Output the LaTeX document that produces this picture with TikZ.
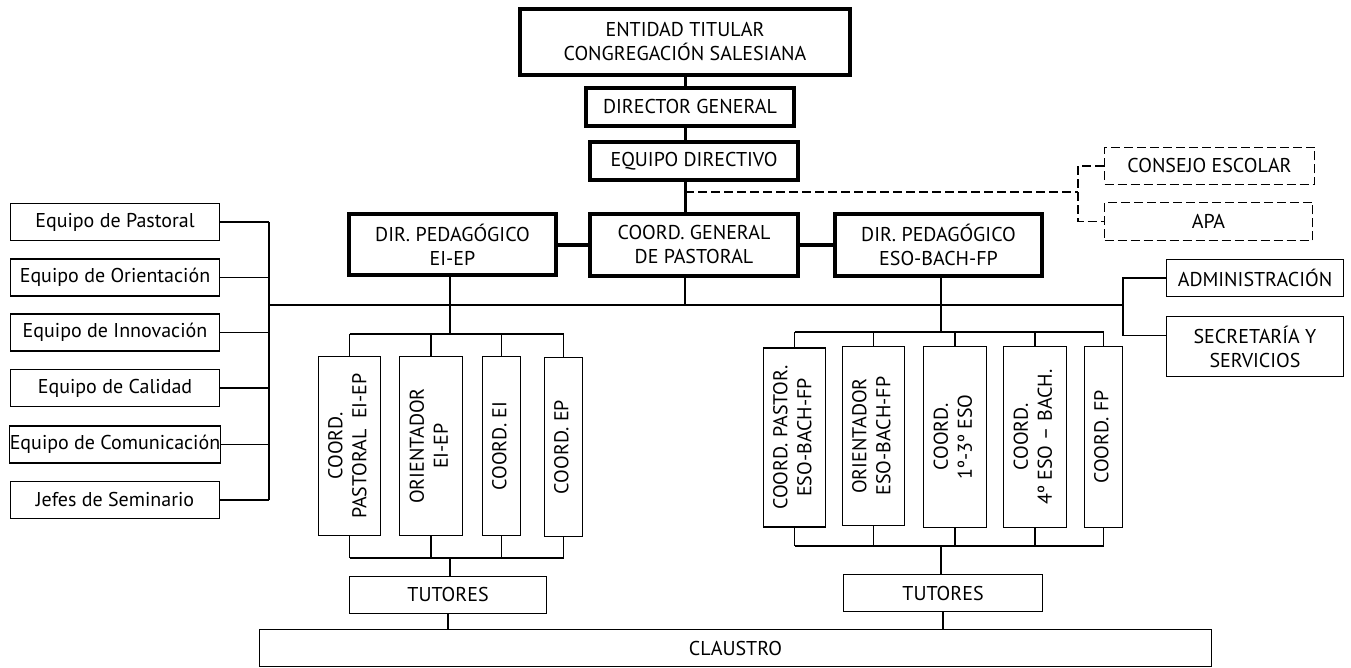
\documentclass[tikz,border=0pt]{standalone}
\usepackage{fontspec}
\setmainfont{PT Sans}
\usepackage{tikz}
\usetikzlibrary{calc, positioning}
\newcommand{\vtexto}[1]{\rotatebox{90}{\begin{tabular}{@{}c@{}}#1\end{tabular}}}

\begin{document}
\begin{tikzpicture}[x=0.5pt, y=-0.5pt, font=\fontsize{10}{12}\selectfont]
        \tikzstyle{cajag} = [draw, rectangle, line width=2pt, inner sep=0pt, align=center]
        \tikzstyle{caja} = [draw, rectangle, line width=0.65pt, inner sep=0pt, align=center]
        \tikzstyle{cajad} = [draw, rectangle, line width=0.65pt, dash pattern=on 4.5pt off 2pt, inner sep=0pt, align=center]
        \tikzstyle{linea} = [line width=0.65pt]
        \tikzstyle{lineag} = [line width=1.5pt]
        \tikzstyle{discont} = [line width=0.65pt, dash pattern=on 4.5pt off 2pt]

        \useasboundingbox (0,0) rectangle (1351,668);

        % Órganos de gobierno
        \node at (685,42) [cajag, minimum width=165pt, minimum height=33pt] (entidad) {ENTIDAD TITULAR\\CONGREGACIÓN SALESIANA};
        \node at (690,107) [cajag, minimum width=104pt, minimum height=19pt] (director) {DIRECTOR GENERAL};
        \node at (694,161) [cajag, minimum width=104pt, minimum height=19pt] (equipo) {EQUIPO DIRECTIVO};
        \node at (694,245) [cajag, minimum width=104pt, minimum height=31pt] (coordgen) {COORD. GENERAL\\DE PASTORAL};
        \node at (452.5,245) [cajag, minimum width=103.5pt, minimum height=30.5pt] (dirEI) {DIR. PEDAGÓGICO\\EI-EP};
        \node at (938.5,245) [cajag, minimum width=103.5pt, minimum height=31pt] (dirESO) {DIR. PEDAGÓGICO\\ESO-BACH-FP};

        % Consejo escolar y APA
        \node at (1209.5,166) [cajad, minimum width=105pt, minimum height=18.5pt] (consejo) {CONSEJO ESCOLAR};
        \node at (1208.5,221.5) [cajad, minimum width=104pt, minimum height=19pt] (apa) {APA};
        \node at (685,192) [coordinate] (rama) {};
        \node at (1078,192) [coordinate] (ramaD) {};

        \draw[lineag] (entidad.south) -- (entidad.south |- director.north);
        \draw[lineag] (entidad.south |- director.south) -- (entidad.south |- equipo.north);
        \draw[lineag] (entidad.south |- equipo.south) -- (entidad.south |- coordgen.north);
        \draw[line width=2pt] (dirEI.east) -- (coordgen.west);
        \draw[line width=2pt] (coordgen.east) -- (dirESO.west);
        \draw[discont] (rama) -- (ramaD);
        \draw[discont] (consejo.west) -| (ramaD) |- (apa.west);

        % Línea general
        \node at (269,305) [coordinate] (busL) {};
        \node at (1123,305) [coordinate] (busR) {};
        \draw[linea] (busL) -- (busR);
        \draw[linea] (rama |- coordgen.south) -- (rama |- busL);

        % Equipos (izquierda)
        \foreach \nom/\y/\txt in {pastoral/222/Equipo de Pastoral, orient/277.5/Equipo de Orientación,
                innov/332.5/Equipo de Innovación, calidad/388/Equipo de Calidad,
                comunic/444.5/Equipo de Comunicación, jefes/500/Jefes de Seminario}{
            \node at (115,\y) [caja, minimum width=104.5pt, minimum height=18.5pt] (\nom) {\txt};
            \draw[linea] (\nom.east) -- (\nom.east -| busL);
        }
        \draw[linea] (pastoral.east -| busL) -- (jefes.east -| busL);

        % Administración (derecha)
        \node at (1255,278) [caja, minimum width=88.5pt, minimum height=18.5pt] (admin) {ADMINISTRACIÓN};
        \node at (1255,346.5) [caja, minimum width=88.5pt, minimum height=30pt] (secre) {SECRETARÍA Y\\SERVICIOS};
        \draw[linea] (admin.west) -| (busR);
        \draw[linea] (busR) |- ($(secre.west)+(0,-11)$);

        % Coordinadores EI-EP
        \node at (450,334) [coordinate] (sbEI) {};
        \node at (450,558) [coordinate] (ibEI) {};
        \node at (349.5,446) [caja, minimum width=31pt, minimum height=89.5pt] (cpEI) {\vtexto{COORD.\\PASTORAL\ \ EI-EP}};
        \node at (431,446) [caja, minimum width=31.5pt, minimum height=89.5pt] (orEI) {\vtexto{ORIENTADOR\\EI-EP}};
        \node at (501.5,446) [caja, minimum width=19pt, minimum height=89.5pt] (coEI) {\vtexto{COORD. EI}};
        \node at (563.5,447) [caja, minimum width=19pt, minimum height=89.5pt] (coEP) {\vtexto{COORD. EP}};
        \node at (448,595) [caja, minimum width=98.5pt, minimum height=18.5pt] (tutEI) {TUTORES};

        \draw[linea] (sbEI |- dirEI.south) -- (sbEI);
        \draw[linea] (cpEI.north |- sbEI) -- (coEP.north |- sbEI);
        \draw[linea] (cpEI.south |- ibEI) -- (coEP.south |- ibEI);
        \foreach \b in {cpEI, orEI, coEI, coEP}{
            \draw[linea] (\b.north) -- (\b.north |- sbEI);
            \draw[linea] (\b.south) -- (\b.south |- ibEI);
        }
        \draw[linea] (ibEI) -- (ibEI |- tutEI.north);

        % Coordinadores ESO-BACH-FP
        \node at (941,332) [coordinate] (sbESO) {};
        \node at (941,546) [coordinate] (ibESO) {};
        \node at (794.5,437.5) [caja, minimum width=31pt, minimum height=89.5pt] (cpESO) {\vtexto{COORD. PASTOR.\\ESO-BACH-FP}};
        \node at (873.5,436) [caja, minimum width=31pt, minimum height=89.5pt] (orESO) {\vtexto{ORIENTADOR\\ESO-BACH-FP}};
        \node at (955,437) [caja, minimum width=31.5pt, minimum height=90.5pt] (coPri) {\vtexto{COORD.\\1º-3º ESO}};
        \node at (1035,437) [caja, minimum width=31.5pt, minimum height=90.5pt] (coSeg) {\vtexto{COORD.\\4º ESO – BACH.}};
        \node at (1103.5,437) [caja, minimum width=19pt, minimum height=90.5pt] (coFP) {\vtexto{COORD. FP}};
        \node at (943,593) [caja, minimum width=99.5pt, minimum height=18.5pt] (tutESO) {TUTORES};

        \draw[linea] (sbESO |- dirESO.south) -- (sbESO);
        \draw[linea] (cpESO.north |- sbESO) -- (coFP.north |- sbESO);
        \draw[linea] (cpESO.south |- ibESO) -- (coFP.south |- ibESO);
        \foreach \b in {cpESO, orESO, coPri, coSeg, coFP}{
            \draw[linea] (\b.north) -- (\b.north |- sbESO);
            \draw[linea] (\b.south) -- (\b.south |- ibESO);
        }
        \draw[linea] (ibESO) -- (ibESO |- tutESO.north);

        % Claustro
        \node at (735.5,648) [caja, minimum width=476pt, minimum height=18.5pt] (claustro) {CLAUSTRO};
        \draw[linea] (tutEI.south) -- (tutEI.south |- claustro.north);
        \draw[linea] (tutESO.south) -- (tutESO.south |- claustro.north);

\end{tikzpicture}
\end{document}
